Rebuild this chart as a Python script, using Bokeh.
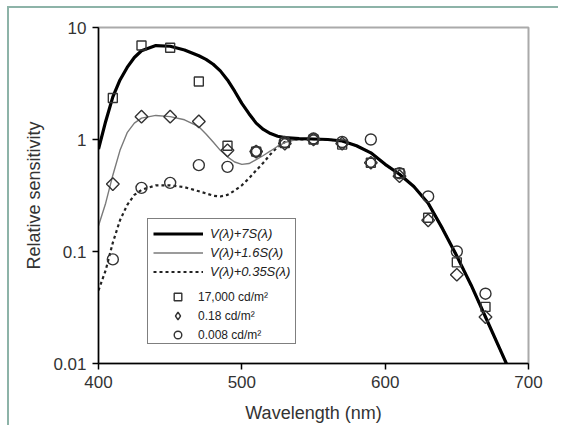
from bokeh.plotting import figure
from bokeh.models import Range1d, FixedTicker, Legend, LegendItem
from bokeh.embed import file_html
from bokeh.resources import INLINE

# ---- data ----
wl_curve = [400, 405, 410, 415, 420, 425, 430, 440, 450, 460, 470, 475, 480, 485, 490, 495,
            500, 505, 510, 515, 520, 525, 530, 535, 540, 550, 560, 570, 580, 590, 600, 610,
            620, 630, 640, 650, 660, 670, 680, 690]
curve_7S = [0.82, 1.45, 2.4, 3.4, 4.4, 5.4, 6.2, 6.9, 6.8, 6.3, 5.6, 5.2, 4.7, 4.1, 3.4, 2.7,
            2.1, 1.7, 1.4, 1.23, 1.13, 1.07, 1.04, 1.03, 1.02, 1.01, 1.0, 0.97, 0.88, 0.76, 0.6, 0.49,
            0.38, 0.27, 0.16, 0.091, 0.05, 0.026, 0.0135, 0.007]
curve_16S = [0.17, 0.27, 0.48, 0.8, 1.15, 1.4, 1.55, 1.64, 1.6, 1.5, 1.3, 1.12, 0.95, 0.8, 0.7, 0.63,
             0.6, 0.61, 0.66, 0.72, 0.79, 0.87, 0.94, 0.98, 1.0, 1.01, 1.0, 0.97, 0.88, 0.76, 0.6, 0.49,
             0.38, 0.27, 0.16, 0.091, 0.05, 0.026, 0.0135, 0.007]
curve_035S = [0.045, 0.068, 0.12, 0.19, 0.26, 0.32, 0.355, 0.39, 0.39, 0.375, 0.345, 0.33, 0.315, 0.31, 0.32, 0.35,
              0.39, 0.45, 0.53, 0.62, 0.74, 0.86, 0.95, 0.99, 1.0, 1.01, 1.0, 0.97, 0.88, 0.76, 0.6, 0.49,
              0.38, 0.27, 0.16, 0.091, 0.05, 0.026, 0.0135, 0.007]

wl_pts = [410, 430, 450, 470, 490, 510, 530, 550, 570, 590, 610, 630, 650, 670]
sq_17000 = [2.35, 6.9, 6.6, 3.3, 0.88, 0.78, 0.93, 1.0, 0.9, 0.62, 0.5, 0.2, 0.08, 0.032]
dia_018 = [0.40, 1.6, 1.6, 1.45, 0.8, 0.78, 0.92, 1.0, 0.92, 0.62, 0.47, 0.19, 0.062, 0.026]
circ_0008 = [0.085, 0.37, 0.41, 0.59, 0.57, 0.78, 0.95, 1.02, 0.95, 1.0, 0.5, 0.31, 0.1, 0.042]

x_ticks = [400, 500, 600, 700]
y_ticks = [0.01, 0.1, 1, 10]
y_tick_labels = ["0.01", "0.1", "1", "10"]

line_labels = ["V(λ)+7S(λ)", "V(λ)+1.6S(λ)", "V(λ)+0.35S(λ)"]
marker_labels = ["17,000 cd/m²", "0.18 cd/m²", "0.008 cd/m²"]

FONT = "Liberation Sans"
TXT = "#333333"

p = figure(width=551, height=419, output_backend="svg", toolbar_location=None,
           y_axis_type="log", x_range=Range1d(400, 700), y_range=Range1d(0.01, 10),
           min_border_left=89, min_border_right=32, min_border_top=19, min_border_bottom=64)
p.styles = {"border-left": "2px solid #8db3a8", "border-top": "2px solid #8db3a8",
            "margin-left": "7px", "margin-top": "6px"}

p.grid.visible = False
p.outline_line_color = "#aaaaaa"
p.outline_line_width = 2
p.background_fill_color = "white"
p.border_fill_color = "white"

p.xaxis.ticker = FixedTicker(ticks=x_ticks)
p.yaxis.ticker = FixedTicker(ticks=y_ticks)
p.yaxis.major_label_overrides = {t: l for t, l in zip(y_ticks, y_tick_labels)}
for ax in (p.xaxis, p.yaxis):
    ax.axis_line_color = "black"
    ax.axis_line_width = 1.5
    ax.major_tick_line_color = "black"
    ax.major_tick_line_width = 1.5
    ax.major_tick_out = 6
    ax.major_tick_in = 0
    ax.minor_tick_line_color = None
    ax.major_label_text_font = FONT
    ax.major_label_text_font_size = "17px"
    ax.major_label_text_color = TXT
    ax.axis_label_text_font = FONT
    ax.axis_label_text_font_size = "18px"
    ax.axis_label_text_font_style = "normal"
    ax.axis_label_text_color = TXT
    ax.major_label_standoff = 6
p.xaxis.axis_label = "Wavelength (nm)"
p.yaxis.axis_label = "Relative sensitivity"
p.xaxis.axis_label_standoff = 12
p.yaxis.axis_label_standoff = 6

r_dot = p.line(wl_curve, curve_035S, line_color="#222222", line_width=2.2, line_dash="3 3")
r_thin = p.line(wl_curve, curve_16S, line_color="#7a7a7a", line_width=1.4)
r_thick = p.line(wl_curve, curve_7S, line_color="black", line_width=3.2)

r_sq = p.scatter(wl_pts, sq_17000, marker="square", size=9, fill_color=None,
                 line_color="#333333", line_width=1.4)
r_dia = p.scatter(wl_pts, dia_018, marker="square", size=9, angle=0.785398, fill_color=None,
                  line_color="#333333", line_width=1.4)
r_circ = p.scatter(wl_pts, circ_0008, marker="circle", size=11, fill_color=None,
                   line_color="#333333", line_width=1.4)

# legend-only helpers (not drawn in the plot area)
dummy = p.line([], [], line_alpha=0)
dia_key = p.scatter([float("nan")], [float("nan")], marker="diamond", size=10, fill_color=None,
                    line_color="#333333", line_width=1.4)

legend1 = Legend(items=[LegendItem(label=line_labels[0], renderers=[r_thick]),
                        LegendItem(label=line_labels[1], renderers=[r_thin]),
                        LegendItem(label=line_labels[2], renderers=[r_dot]),
                        LegendItem(label=" ", renderers=[dummy]),
                        LegendItem(label=" ", renderers=[dummy]),
                        LegendItem(label=" ", renderers=[dummy])],
                 location=(49, 19), margin=0, padding=5, spacing=0,
                 glyph_width=50, glyph_height=19, label_height=19, label_standoff=7,
                 label_text_font=FONT, label_text_font_style="italic",
                 label_text_font_size="13px", label_text_color="#222222",
                 border_line_color="black", border_line_width=1.3,
                 background_fill_color="white", background_fill_alpha=1.0)

legend2 = Legend(items=[LegendItem(label=marker_labels[0], renderers=[r_sq]),
                        LegendItem(label=marker_labels[1], renderers=[dia_key]),
                        LegendItem(label=marker_labels[2], renderers=[r_circ])],
                 location=(70, 19), margin=0, padding=0, spacing=0,
                 glyph_width=19, glyph_height=19, label_height=19, label_standoff=11,
                 label_text_font=FONT, label_text_font_size="12px", label_text_color="#222222",
                 border_line_alpha=0, background_fill_alpha=0)

p.add_layout(legend1)
p.add_layout(legend2)

open("out.html", "w").write(file_html(p, INLINE))
